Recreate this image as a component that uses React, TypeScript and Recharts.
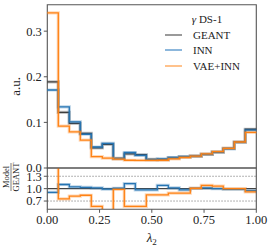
import React from 'react';
import {
  LineChart,
  Line,
  XAxis,
  YAxis,
  ReferenceLine,
  ReferenceArea,
  Legend,
} from 'recharts';

// 19 equal bins on [0, 1]
const BIN_COUNT = 19;
const BIN_EDGES = Array.from({ length: BIN_COUNT + 1 }, (_, i) => i / BIN_COUNT);

const GEANT = [0.189, 0.122, 0.098, 0.076, 0.044, 0.052, 0.021, 0.031, 0.029, 0.019, 0.0185, 0.022, 0.025, 0.026, 0.03, 0.035, 0.043, 0.057, 0.085];
const INN = [0.171, 0.134, 0.101, 0.074, 0.046, 0.054, 0.0205, 0.034, 0.0275, 0.0185, 0.02, 0.023, 0.025, 0.026, 0.03, 0.035, 0.042, 0.056, 0.083];
const VAE_INN = [0.34, 0.092, 0.079, 0.061, 0.025, 0.0215, 0.0195, 0.017, 0.0165, 0.0165, 0.017, 0.02, 0.023, 0.026, 0.031, 0.036, 0.043, 0.057, 0.078];

const INN_RATIO = [0.91, 1.1, 1.045, 1.03, 1.02, 0.99, 1.01, 1.12, 0.97, 0.97, 1.08, 1.02, 0.97, 1.01, 1.02, 1.0, 0.98, 0.98, 0.95];
const VAE_INN_RATIO = [1.8, 0.75, 0.82, 0.84, 0.57, 0.45, 0.98, 0.57, 0.57, 0.85, 0.85, 0.89, 0.89, 1.01, 1.08, 1.06, 1.0, 1.0, 0.92];

const X_TICKS = [0, 0.25, 0.5, 0.75, 1];
const MAIN_Y_TICKS = [0, 0.1, 0.2, 0.3];
const RATIO_Y_TICKS = [0.7, 1.0, 1.3];

const MAIN_Y_MAX = 0.358;
const RATIO_DOMAIN: [number, number] = [0.5, 1.5];
const FONT = '"Liberation Serif", "DejaVu Serif", serif';
const FRAME = '#555';

// panel geometry (px)
const W = 274;
const H = 247;
const PLOT_LEFT = 47.3;
const PLOT_RIGHT = 17.7;
const MAIN_TOP = 4.7;
const RATIO_TOP = 168;
const RATIO_H = 41.3;

const COLORS: Record<string, string> = {
  GEANT: '#3d3d3d',
  INN: '#2574b3',
  'VAE+INN': '#ff8214',
};
const LEGEND_COLORS: Record<string, string> = {
  GEANT: '#9a9a9a',
  INN: '#8cb7dc',
  'VAE+INN': '#ffc28c',
};

// step histogram rows: value of bin i sits on its left edge, last value repeated on the right edge
const toSteps = (series: Record<string, number[]>) =>
  BIN_EDGES.map((x, i) => {
    const row: Record<string, number> = { x };
    Object.entries(series).forEach(([key, vals]) => {
      row[key] = vals[Math.min(i, vals.length - 1)];
    });
    return row;
  });

const mainData = toSteps({ GEANT, INN, 'VAE+INN': VAE_INN });
const ratioData = toSteps({ INN: INN_RATIO, 'VAE+INN': VAE_INN_RATIO });

const tickStyle = { fill: '#222', fontSize: 12.5, fontFamily: FONT };

const stepLines = (keys: string[]) =>
  keys.flatMap((key) => [
    <Line
      key={`${key}-band`}
      dataKey={key}
      type="stepAfter"
      stroke={COLORS[key]}
      strokeOpacity={0.3}
      strokeWidth={3.2}
      dot={false}
      legendType="none"
      isAnimationActive={false}
    />,
    <Line
      key={key}
      dataKey={key}
      name={key}
      type="stepAfter"
      stroke={COLORS[key]}
      strokeWidth={1.3}
      dot={false}
      isAnimationActive={false}
    />,
  ]);

const renderLegend = (props: any) => {
  const items = (props.payload || []).filter((p: any) => p.type !== 'none');
  return (
    <div style={{ fontFamily: FONT, fontSize: 11, color: '#222', width: 80 }}>
      <div style={{ height: 15.3, lineHeight: '15.3px', textAlign: 'center', paddingLeft: 4 }}>
        <i>γ</i> DS-1
      </div>
      {items.map((item: any) => (
        <div key={item.value} style={{ height: 15.3, display: 'flex', alignItems: 'center' }}>
          <span
            style={{
              display: 'inline-block',
              width: 17,
              height: 2,
              background: LEGEND_COLORS[item.value],
              marginRight: 11,
            }}
          />
          <span>{item.value}</span>
        </div>
      ))}
    </div>
  );
};

const axisProps = {
  axisLine: false,
  tickSize: 3.5,
  tickMargin: 2,
  tickLine: { stroke: FRAME },
  tick: tickStyle,
  interval: 0 as const,
};

export default function App() {
  return (
    <div style={{ position: 'absolute', left: 0, top: 0, width: W, height: H, background: '#fff' }}>
      {/* main histogram */}
      <div style={{ position: 'absolute', left: 0, top: 0 }}>
        <LineChart
          width={W}
          height={H}
          data={mainData}
          margin={{ top: MAIN_TOP, right: PLOT_RIGHT, bottom: H - RATIO_TOP, left: 0 }}
        >
          <XAxis type="number" dataKey="x" domain={[0, 1]} hide />
          <YAxis
            type="number"
            domain={[0, MAIN_Y_MAX]}
            ticks={MAIN_Y_TICKS}
            allowDataOverflow
            tickFormatter={(v: number) => v.toFixed(1)}
            width={PLOT_LEFT}
            {...axisProps}
          />
          <ReferenceArea x1={0} x2={1} y1={0} y2={MAIN_Y_MAX} fill="none" stroke={FRAME} strokeWidth={1.1} />
          {stepLines(['GEANT', 'INN', 'VAE+INN'])}
          <Legend
            layout="horizontal"
            align="center"
            verticalAlign="middle"
            content={renderLegend}
            wrapperStyle={{ position: 'absolute', left: 165, top: 12, width: 80, height: 61 }}
          />
        </LineChart>
      </div>

      {/* ratio panel: lines, clipped to the panel box */}
      <div style={{ position: 'absolute', left: 0, top: RATIO_TOP, width: W, height: RATIO_H, overflow: 'hidden' }}>
        <LineChart
          width={W}
          height={RATIO_H}
          data={ratioData}
          margin={{ top: 0, right: PLOT_RIGHT, bottom: 0, left: PLOT_LEFT }}
        >
          <XAxis type="number" dataKey="x" domain={[0, 1]} hide />
          <YAxis type="number" domain={RATIO_DOMAIN} allowDataOverflow hide />
          <ReferenceLine y={1.3} stroke="#999" strokeDasharray="1.5 1.5" />
          <ReferenceLine y={0.7} stroke="#999" strokeDasharray="1.5 1.5" />
          <ReferenceLine y={1} stroke="#444" strokeWidth={1.3} />
          {stepLines(['INN', 'VAE+INN'])}
        </LineChart>
      </div>

      {/* ratio panel: axes and frame */}
      <div style={{ position: 'absolute', left: 0, top: 0 }}>
        <LineChart
          width={W}
          height={H}
          data={ratioData}
          margin={{ top: RATIO_TOP, right: PLOT_RIGHT, bottom: 0, left: 0 }}
        >
          <XAxis
            type="number"
            dataKey="x"
            domain={[0, 1]}
            ticks={X_TICKS}
            tickFormatter={(v: number) => v.toFixed(2)}
            height={H - RATIO_TOP - RATIO_H}
            {...axisProps}
          />
          <YAxis
            type="number"
            domain={RATIO_DOMAIN}
            ticks={RATIO_Y_TICKS}
            allowDataOverflow
            tickFormatter={(v: number) => v.toFixed(1)}
            width={PLOT_LEFT}
            {...axisProps}
          />
          <ReferenceArea x1={0} x2={1} y1={0.5} y2={1.5} fill="none" stroke={FRAME} strokeWidth={1.1} />
        </LineChart>
      </div>

      {/* axis titles */}
      <svg width={W} height={H} style={{ position: 'absolute', left: 0, top: 0, pointerEvents: 'none' }}>
        <text
          transform="translate(15, 86.3) rotate(-90)"
          textAnchor="middle"
          dominantBaseline="central"
          fontFamily={FONT}
          fontSize={13}
          fill="#222"
        >
          a.u.
        </text>
        <g transform="translate(11, 177) rotate(-90)" fontFamily={FONT} fontSize={8.5} fill="#222">
          <text x={0} y={-1.6} textAnchor="middle">Model</text>
          <line x1={-14} x2={14} y1={0} y2={0} stroke="#222" strokeWidth={0.6} />
          <text x={0} y={8} textAnchor="middle">GEANT</text>
        </g>
        <text x={151.8} y={242} textAnchor="middle" fontFamily={FONT} fontSize={13} fill="#222">
          <tspan fontStyle="italic">λ</tspan>
          <tspan fontSize={9} dy={3}>2</tspan>
        </text>
      </svg>
    </div>
  );
}
